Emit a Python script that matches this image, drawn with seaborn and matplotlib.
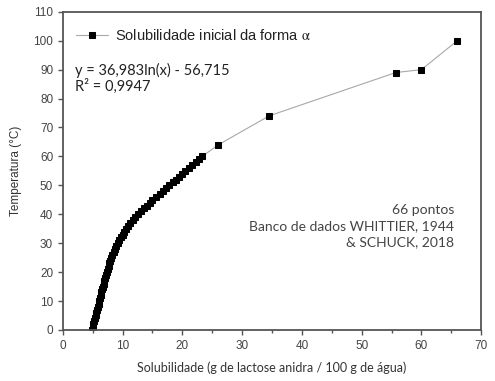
"""Solubilidade inicial da forma alfa da lactose"""
import matplotlib
matplotlib.use("Agg")
import matplotlib.pyplot as plt
from matplotlib.ticker import MultipleLocator
import pandas as pd
import seaborn as sns

# temperatura (°C) e solubilidade (g lactose anidra / 100 g água)
temperatura = list(range(0, 61)) + [64, 74, 89, 90, 100]
solubilidade = [
    4.9, 5.0, 5.1, 5.25, 5.4, 5.5, 5.6, 5.75, 5.85, 6.0,
    6.1, 6.2, 6.35, 6.45, 6.6, 6.7, 6.85, 6.95, 7.1, 7.2,
    7.35, 7.5, 7.65, 7.8, 7.95, 8.1, 8.3, 8.5, 8.7, 8.95,
    9.2, 9.45, 9.7, 10.0, 10.3, 10.6, 10.95, 11.3, 11.7, 12.15,
    12.6, 13.0, 13.5, 14.0, 14.5, 15.0, 15.6, 16.2, 16.7, 17.2,
    17.8, 18.4, 18.9, 19.4, 19.95, 20.5, 21.1, 21.6, 22.2, 22.75,
    23.3,
    26.0, 34.5, 55.7, 60.0, 66.0,
]
df = pd.DataFrame({"x": solubilidade, "T": temperatura})

sns.set_style("ticks")
plt.rcParams["font.family"] = ["Liberation Sans", "DejaVu Sans"]
plt.rcParams["mathtext.fontset"] = "stix"

cinza = "#555555"
fig, ax = plt.subplots(figsize=(4.95, 3.81), dpi=100)
fig.subplots_adjust(left=0.127, right=0.972, bottom=0.134, top=0.969)

sns.lineplot(
    data=df, x="x", y="T", ax=ax, sort=False, estimator=None,
    color="#a8a8a8", lw=0.8, marker="s", markersize=5,
    markerfacecolor="black", markeredgecolor="black",
    label=r"Solubilidade inicial da forma $\mathrm{\alpha}$",
)

ax.set_xlim(0, 70)
ax.set_ylim(0, 110)
ax.xaxis.set_major_locator(MultipleLocator(10))
ax.xaxis.set_minor_locator(MultipleLocator(5))
ax.yaxis.set_major_locator(MultipleLocator(10))
for s in ax.spines.values():
    s.set_color(cinza)
    s.set_linewidth(1.3)
ax.tick_params(which="both", direction="out", color=cinza, width=1.0,
               labelsize=8.5, labelcolor="#444444")
ax.tick_params(which="major", length=3.5)
ax.tick_params(which="minor", length=2.5)

ax.set_xlabel("Solubilidade (g de lactose anidra / 100 g de água)",
              fontsize=9, color="#333333", family=["Lato", "DejaVu Sans"],
              labelpad=7)
ax.set_ylabel("Temperatura (°C)", fontsize=8.5, color="#333333", labelpad=8)

leg = ax.legend(loc="upper left", frameon=False, fontsize=10.5,
                bbox_to_anchor=(0.0, 0.99), handlelength=2.2,
                handletextpad=0.45, labelcolor="#222222")

ax.text(0.03, 0.84, "y = 36,983ln(x) - 56,715\nR² = 0,9947",
        transform=ax.transAxes, ha="left", va="top", fontsize=10.5,
        color="#222222", family=["Lato", "DejaVu Sans"], linespacing=1.05)
ax.text(0.935, 0.395, "66 pontos\nBanco de dados WHITTIER, 1944\n& SCHUCK, 2018",
        transform=ax.transAxes, ha="right", va="top", fontsize=10,
        color="#444444", family=["Lato", "DejaVu Sans"], linespacing=1.4)

fig.savefig("out.png", dpi=100)
plt.close(fig)
